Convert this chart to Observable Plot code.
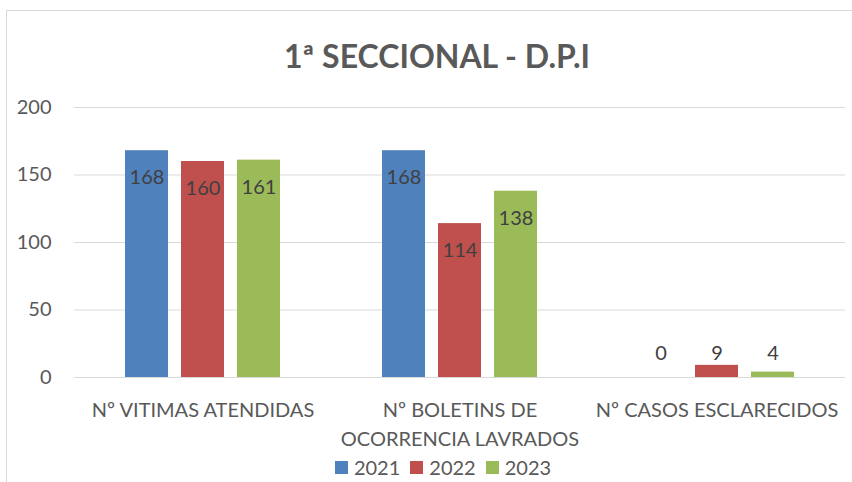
<!DOCTYPE html>
<html><head><meta charset="utf-8">
<script src="https://cdn.jsdelivr.net/npm/d3@7"></script>
<script src="https://cdn.jsdelivr.net/npm/@observablehq/plot@0.6"></script>
<style>
body{margin:0;background:#fff;font-family:Lato,"Liberation Sans",sans-serif;width:852px;height:482px;overflow:hidden;position:relative}
#frame{position:absolute;left:6px;top:10px;width:870px;height:500px;border:1px solid #d9d9d9;box-sizing:border-box}
#title{position:absolute;left:0;top:36px;width:874px;text-align:center;font-size:32px;font-weight:bold;color:#595959}
#chart{position:absolute;left:0;top:95px}
#legend{position:absolute;left:0;top:455px;width:886px;display:flex;justify-content:center;align-items:center;font-size:20px;color:#595959}
.item{display:flex;align-items:center;margin:0 5px}
.sw{width:13px;height:13px;margin-right:6px}
</style></head>
<body>
<div id="frame"></div>
<div id="title">1ª SECCIONAL - D.P.I</div>
<div id="chart"></div>
<div id="legend"></div>
<script>
const categories = ["Nº VITIMAS ATENDIDAS", "Nº BOLETINS DE OCORRENCIA LAVRADOS", "Nº CASOS ESCLARECIDOS"];
const tickLabels = ["Nº VITIMAS ATENDIDAS", "Nº BOLETINS DE\nOCORRENCIA LAVRADOS", "Nº CASOS ESCLARECIDOS"];
const years = ["2021", "2022", "2023"];
const values2021 = [168, 168, 0];
const values2022 = [160, 114, 9];
const values2023 = [161, 138, 4];
const yTicks = [0, 50, 100, 150, 200];
const colors = ["#4f81bd", "#c0504d", "#9bbb59"];

const series = [values2021, values2022, values2023];
const data = [];
categories.forEach((c, i) => years.forEach((y, j) => data.push({category: c, year: y, value: series[j][i]})));

const chart = Plot.plot({
  width: 852,
  height: 357,
  marginLeft: 73,
  marginRight: 6,
  marginTop: 12,
  marginBottom: 75,
  style: {fontFamily: "Lato, 'Liberation Sans', sans-serif", color: "#595959", background: "transparent", overflow: "visible"},
  fx: {domain: categories, padding: 0},
  x: {domain: years, paddingInner: 0.228, paddingOuter: 0.87, axis: null},
  y: {domain: [0, 200]},
  color: {domain: years, range: colors},
  marks: [
    Plot.gridY(yTicks, {stroke: "#d9d9d9", strokeOpacity: 1, strokeWidth: 1}),
    Plot.barY(data, {fx: "category", x: "year", y: "value", fill: "year"}),
    Plot.text(data.filter(d => d.value > 20), {fx: "category", x: "year", y: "value", text: d => String(d.value), dy: 27, fontSize: 20, fill: "#404040"}),
    Plot.text(data.filter(d => d.value <= 20), {fx: "category", x: "year", y: () => 0, text: d => String(d.value), dy: -24, fontSize: 20, fill: "#404040"}),
    Plot.axisY(yTicks, {tickSize: 0, tickPadding: 23, fontSize: 20, fill: "#595959", label: null}),
    Plot.axisFx({anchor: "bottom", tickSize: 0, tickPadding: 19, fontSize: 20, lineHeight: 1.45, fill: "#595959", label: null,
      tickFormat: d => tickLabels[categories.indexOf(d)]})
  ]
});
document.getElementById("chart").appendChild(chart);

const legend = document.getElementById("legend");
years.forEach((y, i) => {
  const it = document.createElement("div");
  it.className = "item";
  it.innerHTML = `<div class="sw" style="background:${colors[i]}"></div><span>${y}</span>`;
  legend.appendChild(it);
});
</script>
</body></html>
